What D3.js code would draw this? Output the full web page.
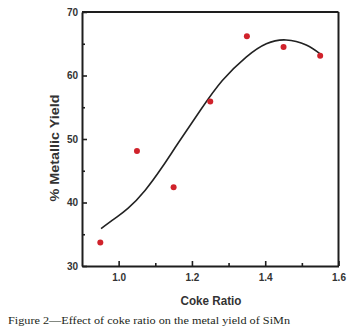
<!DOCTYPE html>
<html><head><meta charset="utf-8">
<script src="https://cdn.jsdelivr.net/npm/d3@7"></script>
<style>body{margin:0;background:#fff;}svg{display:block;}</style>
</head><body>
<script>
// Data
const cokeRatio = [0.95, 1.05, 1.15, 1.25, 1.35, 1.45, 1.55];
const metallicYield = [33.7, 48.1, 42.4, 55.9, 66.2, 64.5, 63.1];
// Fitted curve
const fitX = [0.952, 0.99, 1.026, 1.072, 1.118, 1.163, 1.224, 1.283, 1.348, 1.403, 1.457, 1.512, 1.55];
const fitY = [35.9, 37.5, 39.1, 41.9, 45.5, 49.4, 54.6, 59.2, 62.9, 65.0, 65.6, 64.8, 63.4];
const xMajorTicks = [1.0, 1.2, 1.4, 1.6];
const xMinorTicks = [1.1, 1.3, 1.5];
const yMajorTicks = [30, 40, 50, 60, 70];
const yMinorTicks = [35, 45, 55, 65];
const xTitle = "Coke Ratio";
const yTitle = "% Metallic Yield";
const caption = "Figure 2\u2014Effect of coke ratio on the metal yield of SiMn";

const W = 359, H = 336;
const m = {left: 82, right: 20.5, top: 12, bottom: 70};
const svg = d3.select("body").append("svg").attr("width", W).attr("height", H);
const x = d3.scaleLinear().domain([0.9, 1.6]).range([m.left, W - m.right]);
const y = d3.scaleLinear().domain([30, 70]).range([H - m.bottom, m.top]);
const axisColor = "#1e1e1e";

// frame top & right
svg.append("line").attr("x1", x(0.9)).attr("x2", x(1.6)).attr("y1", y(70)).attr("y2", y(70))
  .attr("stroke", axisColor).attr("stroke-width", 2);
svg.append("line").attr("x1", x(1.6)).attr("x2", x(1.6)).attr("y1", y(70)).attr("y2", y(30))
  .attr("stroke", axisColor).attr("stroke-width", 2);

// X axis
const xAx = svg.append("g").attr("transform", `translate(0,${y(30)})`)
  .call(d3.axisBottom(x).tickValues(xMajorTicks).tickSizeInner(-5).tickSizeOuter(0).tickPadding(8)
    .tickFormat(d3.format(".1f")));
xAx.select(".domain").attr("stroke", axisColor).attr("stroke-width", 2);
xAx.selectAll(".tick line").attr("stroke", axisColor).attr("stroke-width", 1.6);
xAx.selectAll("text").attr("font-family", "Liberation Sans, Arial, sans-serif")
  .attr("font-weight", "bold").attr("font-size", 10).attr("fill", "#333");
const xMin = svg.append("g").attr("transform", `translate(0,${y(30)})`)
  .call(d3.axisBottom(x).tickValues(xMinorTicks).tickSizeInner(-3).tickSizeOuter(0).tickFormat(""));
xMin.select(".domain").remove();
xMin.selectAll(".tick line").attr("stroke", axisColor).attr("stroke-width", 1.6);

// Y axis
const yAx = svg.append("g").attr("transform", `translate(${x(0.9)},0)`)
  .call(d3.axisLeft(y).tickValues(yMajorTicks).tickSizeInner(-5).tickSizeOuter(0).tickPadding(4));
yAx.select(".domain").attr("stroke", axisColor).attr("stroke-width", 2);
yAx.selectAll(".tick line").attr("stroke", axisColor).attr("stroke-width", 1.6);
yAx.selectAll("text").attr("font-family", "Liberation Sans, Arial, sans-serif")
  .attr("font-weight", "bold").attr("font-size", 10).attr("fill", "#333");
const yMin = svg.append("g").attr("transform", `translate(${x(0.9)},0)`)
  .call(d3.axisLeft(y).tickValues(yMinorTicks).tickSizeInner(-3).tickSizeOuter(0).tickFormat(""));
yMin.select(".domain").remove();
yMin.selectAll(".tick line").attr("stroke", axisColor).attr("stroke-width", 1.6);

// fitted curve
const fit = fitX.map((v, i) => [v, fitY[i]]);
svg.append("path").datum(fit)
  .attr("d", d3.line().x(d => x(d[0])).y(d => y(d[1])).curve(d3.curveNatural))
  .attr("fill", "none").attr("stroke", "#222").attr("stroke-width", 1.6);

// points
svg.selectAll("circle.pt").data(cokeRatio).enter().append("circle")
  .attr("class", "pt")
  .attr("cx", d => x(d)).attr("cy", (d, i) => y(metallicYield[i])).attr("r", 3)
  .attr("fill", "#d0222b");

// titles
svg.append("text").text(xTitle).attr("x", 211).attr("y", 304.5)
  .attr("text-anchor", "middle").attr("font-family", "Liberation Sans, Arial, sans-serif")
  .attr("font-weight", "bold").attr("font-size", 13).attr("fill", "#333")
  .attr("textLength", 61).attr("lengthAdjust", "spacingAndGlyphs");
svg.append("text").text(yTitle)
  .attr("transform", "translate(59,148) rotate(-90)")
  .attr("text-anchor", "middle").attr("font-family", "Liberation Sans, Arial, sans-serif")
  .attr("font-weight", "bold").attr("font-size", 13).attr("fill", "#333")
  .attr("textLength", 107).attr("lengthAdjust", "spacingAndGlyphs");

// caption
svg.append("text").text(caption).attr("x", 8).attr("y", 324)
  .attr("font-family", "Liberation Serif, Times New Roman, serif")
  .attr("font-size", 11).attr("fill", "#231f20")
  .attr("textLength", 282).attr("lengthAdjust", "spacingAndGlyphs");
</script>
</body></html>
